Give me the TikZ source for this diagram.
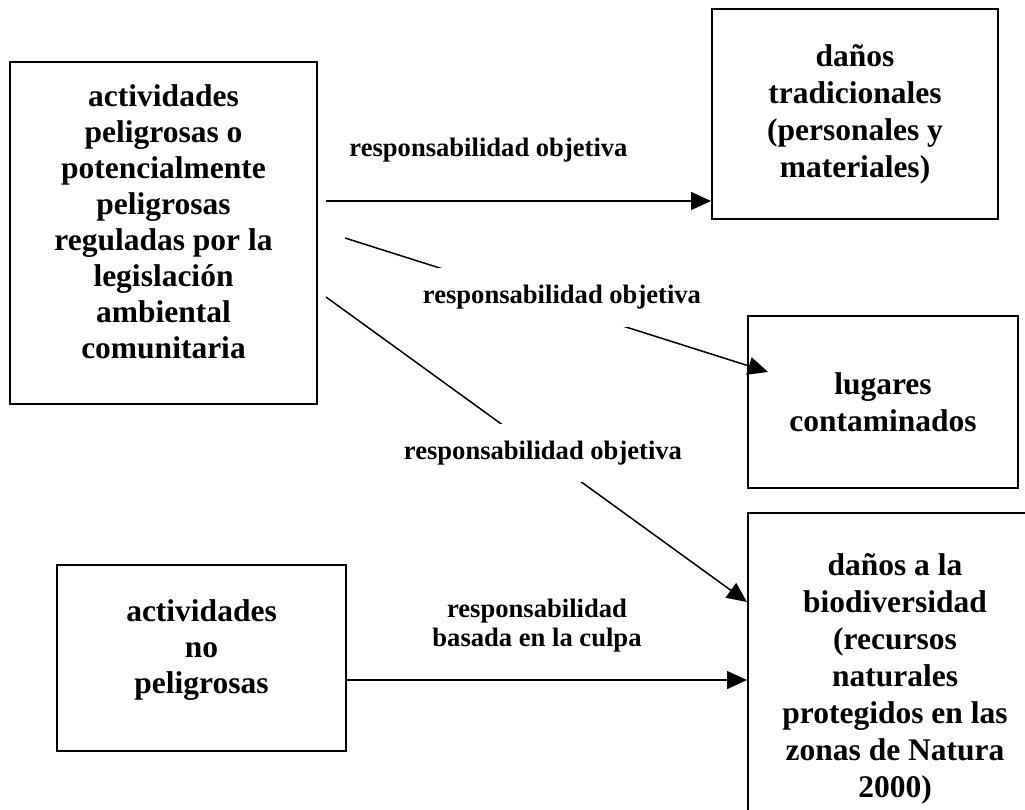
\documentclass[tikz,border=0pt]{standalone}
\usepackage{fontspec}
\setmainfont{Liberation Serif}
\usetikzlibrary{arrows.meta}
\begin{document}
\begin{tikzpicture}[x=1pt,y=-1pt,
  box/.style={draw, line width=2pt, align=center, inner sep=0pt,
    font=\fontsize{31.5}{37}\selectfont\bfseries},
  lab/.style={align=center, inner xsep=4pt, inner ysep=0pt,
    font=\fontsize{26.6}{29}\selectfont\bfseries},
  arr/.style={line width=1.5pt, -{Triangle[length=20pt,width=18pt]}}]
\useasboundingbox (0,0) rectangle (1025,809);
\clip (0,0) rectangle (1025,809);
% boxes
\node[box, minimum width=307pt, minimum height=342pt,
  font=\fontsize{31.5}{36}\selectfont\bfseries] (A) at (163.5,233)
  {actividades\\peligrosas o\\potencialmente\\peligrosas\\reguladas por la\\legislación\\ambiental\\comunitaria\\[-13pt]\mbox{}};
\node[box, minimum width=286pt, minimum height=210pt] (B) at (855,114)
  {daños\\tradicionales\\(personales y\\materiales)};
\node[box, minimum width=270pt, minimum height=172pt] (C) at (883,402)
  {lugares\\contaminados};
\node[box, minimum width=294pt, minimum height=361.5pt] (D) at (895,693.75)
  {daños a la\\biodiversidad\\(recursos\\naturales\\protegidos en las\\zonas de Natura\\2000)\\\mbox{}};
\node[box, minimum width=289pt, minimum height=186pt,
  font=\fontsize{31.5}{36}\selectfont\bfseries] (E) at (201.5,658)
  {actividades\\no\\peligrosas\\[-13pt]\mbox{}};
% connector ends
\coordinate (s1) at (326,201);
\coordinate (s2) at (345,238);
\coordinate (e2) at (768,372);
\coordinate (s3) at (326,297);
\coordinate (y3) at (0,602);
\coordinate (y4) at (0,680);
% connectors
\draw[arr] (s1) -- (s1 -| B.west);
\draw[arr] (s2) -- (e2);
\draw[arr] (s3) -- (y3 -| D.west);
\draw[arr] (y4 -| E.east) -- (y4 -| D.west);
% labels
\node[lab] (L1) at (488.5,150) {responsabilidad objetiva};
\node[lab, fill=white, minimum height=59pt] (L2) at (562,297.5) {responsabilidad objetiva};
\node[lab, fill=white, minimum height=58pt] (L3) at (543,453) {responsabilidad objetiva};
\node[lab] (L4) at (537,626) {responsabilidad\\basada en la culpa};
\end{tikzpicture}
\end{document}
